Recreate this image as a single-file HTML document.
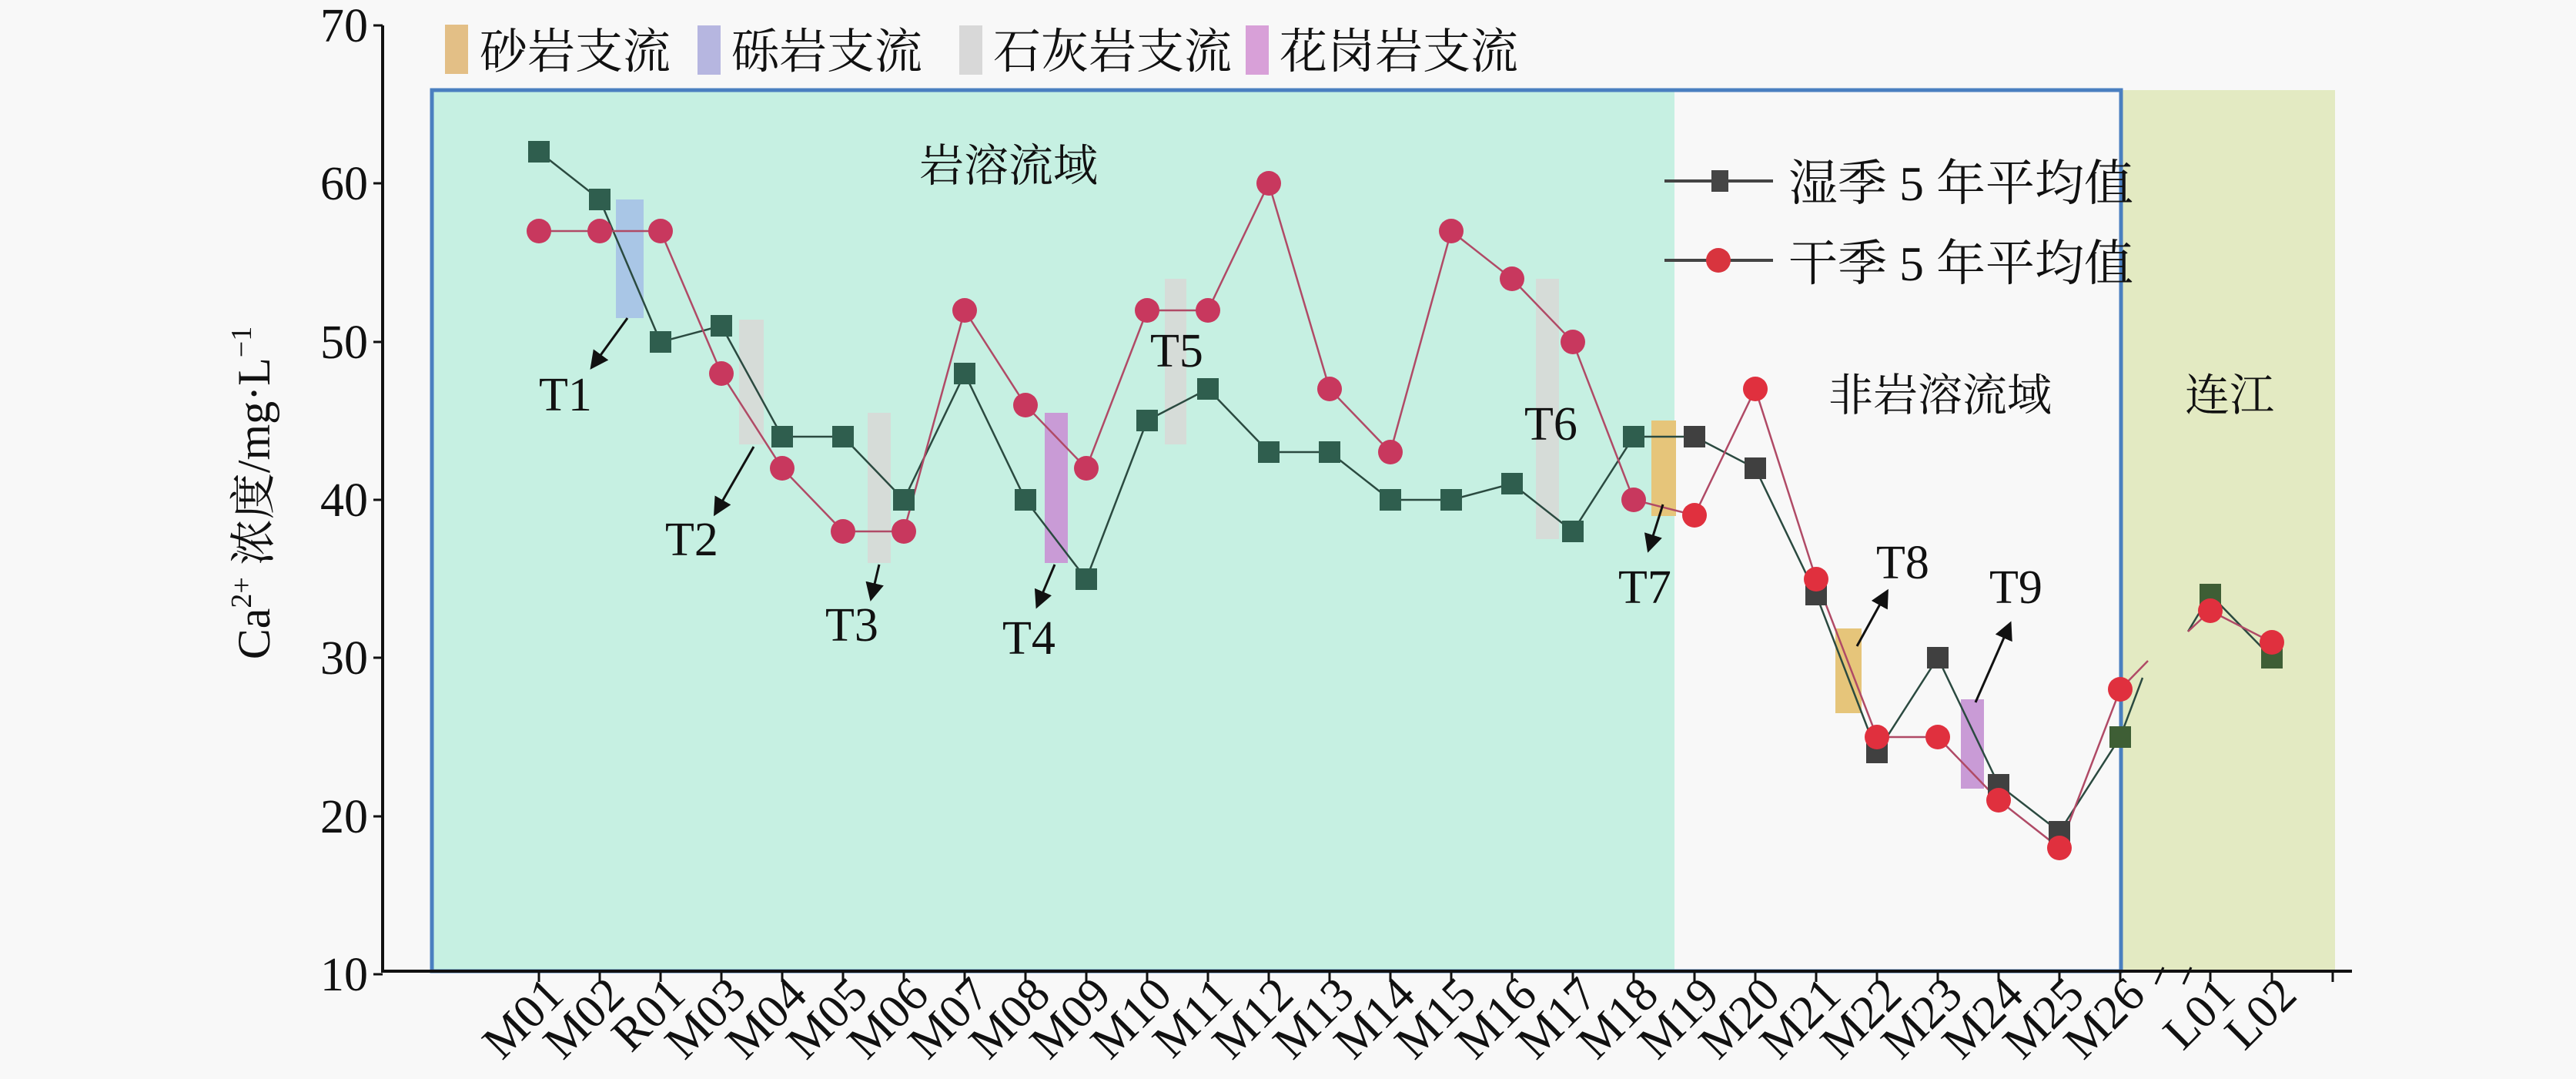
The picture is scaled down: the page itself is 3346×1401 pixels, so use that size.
<!DOCTYPE html>
<html><head><meta charset="utf-8"><style>
html,body{margin:0;padding:0;background:#f8f8f8}
svg{display:block}
text{font-family:"Liberation Serif","Noto Serif CJK SC",serif;fill:#111}
</style></head><body>
<svg width="3346" height="1401" viewBox="0 0 3346 1401" xmlns="http://www.w3.org/2000/svg">
<rect width="3346" height="1401" fill="#f8f8f8"/>
<!-- regions -->
<rect x="561" y="117" width="1614" height="1144" fill="#c6f0e2"/>
<rect x="2175" y="117" width="580" height="1144" fill="#f8f8f8"/>
<rect x="2755" y="117" width="278" height="1144" fill="#e3eac2"/>
<rect x="561" y="117" width="2194" height="1144" fill="none" stroke="#4a7fc0" stroke-width="5"/>
<!-- tributary bars -->
<rect x="800" y="259" width="36" height="154" fill="#a9c6e6"/>
<rect x="960" y="415" width="32" height="162" fill="#d6dcd8"/>
<rect x="1127" y="536" width="30" height="195" fill="#d6dcd8"/>
<rect x="1357" y="536" width="30" height="195" fill="#c99bd6"/>
<rect x="1513" y="362" width="28" height="215" fill="#d6dcd8"/>
<rect x="1995" y="362" width="30" height="338" fill="#d6dcd8"/>
<rect x="2145" y="546" width="32" height="124" fill="#e6c57a"/>
<rect x="2384" y="816" width="34" height="110" fill="#e6c57a"/>
<rect x="2547" y="908" width="30" height="116" fill="#c99bd6"/>
<!-- axes -->
<line x1="497" y1="33" x2="497" y2="1263" stroke="#111" stroke-width="4"/>
<line x1="497" y1="1261" x2="3055" y2="1261" stroke="#111" stroke-width="4"/>
<g stroke="#111" stroke-width="3">
<line x1="485" y1="33" x2="497" y2="33"/><line x1="485" y1="238" x2="497" y2="238"/><line x1="485" y1="444" x2="497" y2="444"/><line x1="485" y1="649" x2="497" y2="649"/><line x1="485" y1="854" x2="497" y2="854"/><line x1="485" y1="1060" x2="497" y2="1060"/><line x1="485" y1="1265" x2="497" y2="1265"/>
<path d="M700 1261v14M779 1261v14M858 1261v14M937 1261v14M1016 1261v14M1095 1261v14M1174 1261v14M1253 1261v14M1332 1261v14M1411 1261v14M1490 1261v14M1569 1261v14M1648 1261v14M1727 1261v14M1806 1261v14M1885 1261v14M1964 1261v14M2043 1261v14M2122 1261v14M2201 1261v14M2280 1261v14M2359 1261v14M2438 1261v14M2517 1261v14M2596 1261v14M2675 1261v14M2754 1261v14M2871 1261v14M2951 1261v14M3030 1261v14"/>
<path d="M2800 1278l10 -22M2836 1278l10 -22"/>
</g>
<g font-size="62" text-anchor="end">
<text x="478" y="54">70</text><text x="478" y="259">60</text><text x="478" y="465">50</text><text x="478" y="670">40</text><text x="478" y="875">30</text><text x="478" y="1081">20</text><text x="478" y="1286">10</text>
</g>
<text transform="translate(350,640) rotate(-90)" font-size="60" text-anchor="middle">Ca<tspan font-size="38" dy="-24">2+</tspan><tspan dy="24"> 浓度/mg·L</tspan><tspan font-size="38" dy="-24">−1</tspan></text>
<!-- x labels -->
<g font-size="62" text-anchor="end">
<text transform="translate(735,1295) rotate(-45)">M01</text>
<text transform="translate(814,1295) rotate(-45)">M02</text>
<text transform="translate(893,1295) rotate(-45)">R01</text>
<text transform="translate(972,1295) rotate(-45)">M03</text>
<text transform="translate(1051,1295) rotate(-45)">M04</text>
<text transform="translate(1130,1295) rotate(-45)">M05</text>
<text transform="translate(1209,1295) rotate(-45)">M06</text>
<text transform="translate(1288,1295) rotate(-45)">M07</text>
<text transform="translate(1367,1295) rotate(-45)">M08</text>
<text transform="translate(1446,1295) rotate(-45)">M09</text>
<text transform="translate(1525,1295) rotate(-45)">M10</text>
<text transform="translate(1604,1295) rotate(-45)">M11</text>
<text transform="translate(1683,1295) rotate(-45)">M12</text>
<text transform="translate(1762,1295) rotate(-45)">M13</text>
<text transform="translate(1841,1295) rotate(-45)">M14</text>
<text transform="translate(1920,1295) rotate(-45)">M15</text>
<text transform="translate(1999,1295) rotate(-45)">M16</text>
<text transform="translate(2078,1295) rotate(-45)">M17</text>
<text transform="translate(2157,1295) rotate(-45)">M18</text>
<text transform="translate(2236,1295) rotate(-45)">M19</text>
<text transform="translate(2315,1295) rotate(-45)">M20</text>
<text transform="translate(2394,1295) rotate(-45)">M21</text>
<text transform="translate(2473,1295) rotate(-45)">M22</text>
<text transform="translate(2552,1295) rotate(-45)">M23</text>
<text transform="translate(2631,1295) rotate(-45)">M24</text>
<text transform="translate(2710,1295) rotate(-45)">M25</text>
<text transform="translate(2789,1295) rotate(-45)">M26</text>
<text transform="translate(2906,1295) rotate(-45)">L01</text>
<text transform="translate(2986,1295) rotate(-45)">L02</text>
</g>
<!-- series lines -->
<polyline fill="none" stroke="#2b4a40" stroke-width="2.5" points="700,197 779,259 858,444 937,423 1016,567 1095,567 1174,649 1253,485 1332,649 1411,752 1490,546 1569,505 1648,587 1727,587 1806,649 1885,649 1964,628 2043,690 2122,567 2201,567 2280,608 2359,772 2438,977 2517,854 2596,1019 2675,1080 2754,957 2783,880"/>
<polyline fill="none" stroke="#b04a66" stroke-width="2.5" points="700,300 779,300 858,300 937,485 1016,608 1095,690 1174,690 1253,403 1332,526 1411,608 1490,403 1569,403 1648,238 1727,505 1806,587 1885,300 1964,362 2043,444 2122,649 2201,669 2280,505 2359,752 2438,957 2517,957 2596,1039 2675,1101 2754,895 2790,858"/>
<polyline fill="none" stroke="#2b4a40" stroke-width="2.5" points="2842,820 2871,772 2951,854"/>
<polyline fill="none" stroke="#b04a66" stroke-width="2.5" points="2842,820 2871,793 2951,834"/>
<!-- wet markers -->
<g fill="#2f5e4e">
<rect x="686" y="183" width="28" height="28"/><rect x="765" y="245" width="28" height="28"/><rect x="844" y="430" width="28" height="28"/><rect x="923" y="409" width="28" height="28"/><rect x="1002" y="553" width="28" height="28"/><rect x="1081" y="553" width="28" height="28"/><rect x="1160" y="635" width="28" height="28"/><rect x="1239" y="471" width="28" height="28"/><rect x="1318" y="635" width="28" height="28"/><rect x="1397" y="738" width="28" height="28"/><rect x="1476" y="532" width="28" height="28"/><rect x="1555" y="491" width="28" height="28"/><rect x="1634" y="573" width="28" height="28"/><rect x="1713" y="573" width="28" height="28"/><rect x="1792" y="635" width="28" height="28"/><rect x="1871" y="635" width="28" height="28"/><rect x="1950" y="614" width="28" height="28"/><rect x="2029" y="676" width="28" height="28"/><rect x="2108" y="553" width="28" height="28"/>
</g>
<g fill="#404040">
<rect x="2187" y="553" width="28" height="28"/><rect x="2266" y="594" width="28" height="28"/><rect x="2345" y="758" width="28" height="28"/><rect x="2424" y="963" width="28" height="28"/><rect x="2503" y="840" width="28" height="28"/><rect x="2582" y="1005" width="28" height="28"/><rect x="2661" y="1066" width="28" height="28"/>
</g>
<g fill="#3e5e35"><rect x="2740" y="943" width="28" height="28"/><rect x="2857" y="758" width="28" height="28"/><rect x="2937" y="840" width="28" height="28"/></g>
<!-- dry markers -->
<g fill="#c8385e">
<circle cx="700" cy="300" r="16"/><circle cx="779" cy="300" r="16"/><circle cx="858" cy="300" r="16"/><circle cx="937" cy="485" r="16"/><circle cx="1016" cy="608" r="16"/><circle cx="1095" cy="690" r="16"/><circle cx="1174" cy="690" r="16"/><circle cx="1253" cy="403" r="16"/><circle cx="1332" cy="526" r="16"/><circle cx="1411" cy="608" r="16"/><circle cx="1490" cy="403" r="16"/><circle cx="1569" cy="403" r="16"/><circle cx="1648" cy="238" r="16"/><circle cx="1727" cy="505" r="16"/><circle cx="1806" cy="587" r="16"/><circle cx="1885" cy="300" r="16"/><circle cx="1964" cy="362" r="16"/><circle cx="2043" cy="444" r="16"/><circle cx="2122" cy="649" r="16"/>
</g>
<g fill="#e0303e">
<circle cx="2201" cy="669" r="16"/><circle cx="2280" cy="505" r="16"/><circle cx="2359" cy="752" r="16"/><circle cx="2438" cy="957" r="16"/><circle cx="2517" cy="957" r="16"/><circle cx="2596" cy="1039" r="16"/><circle cx="2675" cy="1101" r="16"/><circle cx="2754" cy="895" r="16"/><circle cx="2871" cy="793" r="16"/><circle cx="2951" cy="834" r="16"/>
</g>
<!-- arrows -->
<defs><marker id="ah" markerWidth="8" markerHeight="8" refX="6" refY="4" orient="auto"><path d="M0,0L8,4L0,8Z" fill="#111"/></marker></defs>
<g stroke="#111" stroke-width="3" marker-end="url(#ah)">
<line x1="815" y1="413" x2="770" y2="475"/>
<line x1="979" y1="580" x2="930" y2="665"/>
<line x1="1142" y1="733" x2="1132" y2="775"/>
<line x1="1370" y1="733" x2="1348" y2="785"/>
<line x1="2160" y1="655" x2="2142" y2="712"/>
<line x1="2412" y1="839" x2="2450" y2="770"/>
<line x1="2566" y1="912" x2="2610" y2="812"/>
</g>
<!-- annotations -->
<g font-size="62">
<text x="700" y="533">T1</text><text x="864" y="721">T2</text><text x="1072" y="832">T3</text><text x="1302" y="849">T4</text><text x="1494" y="476">T5</text><text x="1980" y="571">T6</text><text x="2102" y="783">T7</text><text x="2437" y="751">T8</text><text x="2584" y="783">T9</text>
</g>
<g font-size="58" text-anchor="middle">
<text x="1310" y="235">岩溶流域</text><text x="2520" y="533">非岩溶流域</text><text x="2896" y="533">连江</text>
</g>
<!-- legend top -->
<rect x="578" y="32" width="30" height="64" fill="#e3bf86"/>
<rect x="906" y="33" width="30" height="64" fill="#b6b6e0"/>
<rect x="1246" y="33" width="30" height="64" fill="#d8d8d8"/>
<rect x="1618" y="33" width="30" height="64" fill="#d8a0d8"/>
<g font-size="62"><text x="623" y="88">砂岩支流</text><text x="950" y="88">砾岩支流</text><text x="1290" y="88">石灰岩支流</text><text x="1662" y="88">花岗岩支流</text></g>
<!-- legend series -->
<line x1="2162" y1="235" x2="2303" y2="235" stroke="#444" stroke-width="4"/>
<rect x="2223" y="221" width="22" height="28" fill="#454545"/>
<line x1="2162" y1="338" x2="2303" y2="338" stroke="#444" stroke-width="4"/>
<circle cx="2232" cy="338" r="16" fill="#d8343e"/>
<g font-size="64"><text x="2323" y="260">湿季 5 年平均值</text><text x="2323" y="364">干季 5 年平均值</text></g>
</svg>
</body></html>
